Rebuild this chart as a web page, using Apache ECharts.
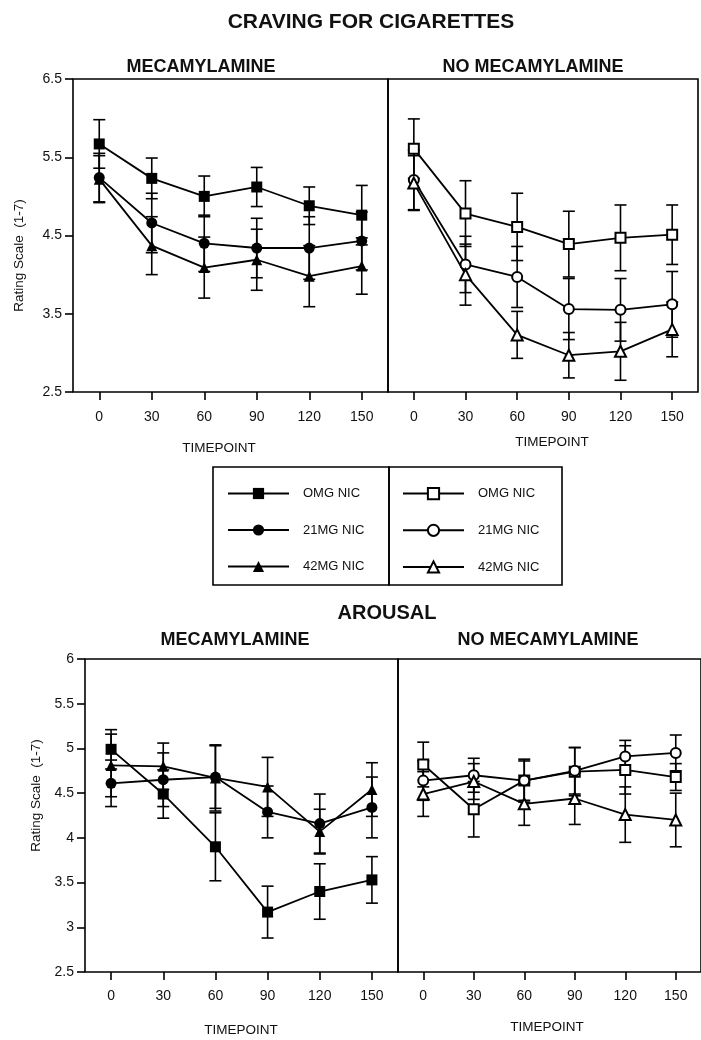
<!DOCTYPE html>
<html>
<head>
<meta charset="utf-8">
<script src="https://cdn.jsdelivr.net/npm/echarts@6/dist/echarts.min.js"></script>
<style>
  html, body { margin: 0; padding: 0; background: #fff; }
  #main { width: 701px; height: 1040px; }
</style>
</head>
<body>
<div id="main"></div>
<script>
var timepoints = ['0', '30', '60', '90', '120', '150'];

// craving, mecamylamine
var craveMecOmg = [5.67, 5.23, 5.00, 5.12, 4.88, 4.76];
var craveMecOmgSe = [0.31, 0.26, 0.26, 0.25, 0.24, 0.38];
var craveMec21 = [5.24, 4.66, 4.40, 4.34, 4.34, 4.43];
var craveMec21Se = [0.31, 0.38, 0.36, 0.38, 0.40, 0.37];
var craveMec42 = [5.22, 4.37, 4.09, 4.19, 3.98, 4.11];
var craveMec42Se = [0.30, 0.37, 0.39, 0.39, 0.39, 0.36];

// craving, no mecamylamine
var craveNoOmg = [5.61, 4.78, 4.61, 4.39, 4.47, 4.51];
var craveNoOmgSe = [0.38, 0.42, 0.43, 0.42, 0.42, 0.38];
var craveNo21 = [5.21, 4.13, 3.97, 3.56, 3.55, 3.62];
var craveNo21Se = [0.38, 0.36, 0.39, 0.39, 0.40, 0.42];
var craveNo42 = [5.17, 4.00, 3.23, 2.97, 3.02, 3.30];
var craveNo42Se = [0.35, 0.39, 0.30, 0.29, 0.37, 0.35];

// arousal, mecamylamine
var arouseMecOmg = [4.99, 4.49, 3.90, 3.17, 3.40, 3.53];
var arouseMecOmgSe = [0.22, 0.27, 0.38, 0.29, 0.31, 0.26];
var arouseMec21 = [4.61, 4.65, 4.68, 4.29, 4.16, 4.34];
var arouseMec21Se = [0.26, 0.30, 0.35, 0.29, 0.33, 0.34];
var arouseMec42 = [4.81, 4.80, 4.67, 4.57, 4.07, 4.54];
var arouseMec42Se = [0.35, 0.26, 0.37, 0.33, 0.25, 0.30];

// arousal, no mecamylamine
var arouseNoOmg = [4.82, 4.32, 4.64, 4.74, 4.76, 4.68];
var arouseNoOmgSe = [0.25, 0.31, 0.24, 0.27, 0.27, 0.15];
var arouseNo21 = [4.64, 4.70, 4.64, 4.75, 4.91, 4.95];
var arouseNo21Se = [0.22, 0.19, 0.22, 0.26, 0.18, 0.20];
var arouseNo42 = [4.49, 4.63, 4.38, 4.44, 4.26, 4.20];
var arouseNo42Se = [0.25, 0.20, 0.24, 0.29, 0.31, 0.30];

var FONT = 'Liberation Sans';
var chart = echarts.init(document.getElementById('main'));

var errorBars = function(grid, values, se) {
    return {
        type: 'custom',
        xAxisIndex: grid,
        yAxisIndex: grid,
        z: 1,
        silent: true,
        data: values.map(function(v, i) { return [i, v - se[i], v + se[i]]; }),
        renderItem: function(params, api) {
            var lo = api.coord([api.value(0), api.value(1)]);
            var hi = api.coord([api.value(0), api.value(2)]);
            var w = 6;
            var style = { stroke: '#000', lineWidth: 1.6 };
            return {
                type: 'group',
                children: [
                    { type: 'line', shape: { x1: lo[0], y1: lo[1], x2: hi[0], y2: hi[1] }, style: style },
                    { type: 'line', shape: { x1: lo[0] - w, y1: lo[1], x2: lo[0] + w, y2: lo[1] }, style: style },
                    { type: 'line', shape: { x1: hi[0] - w, y1: hi[1], x2: hi[0] + w, y2: hi[1] }, style: style }
                ]
            };
        }
    };
};

var lineSeries = function(name, grid, values, symbol, size) {
    var hollow = symbol.indexOf('empty') === 0;
    return {
        type: 'line',
        name: name,
        xAxisIndex: grid,
        yAxisIndex: grid,
        z: 3,
        data: values,
        symbol: symbol,
        symbolSize: size,
        showAllSymbol: true,
        animation: false,
        lineStyle: { color: '#000', width: 1.8 },
        itemStyle: { color: '#000', borderColor: '#000', borderWidth: hollow ? 1.5 : 0 }
    };
};

var group = function(grid, prefix, omg, omgSe, m21, m21Se, m42, m42Se, hollow) {
    var e = hollow ? 'empty' : '';
    return [
        errorBars(grid, omg, omgSe),
        errorBars(grid, m21, m21Se),
        errorBars(grid, m42, m42Se),
        lineSeries(prefix + '|OMG NIC', grid, omg, e + 'rect', hollow ? 10 : 11),
        lineSeries(prefix + '|21MG NIC', grid, m21, e + 'circle', hollow ? 10 : 11),
        lineSeries(prefix + '|42MG NIC', grid, m42, e + 'triangle', 11)
    ];
};

var grids = [
    { left: 73, top: 79, width: 315, height: 313 },
    { left: 388, top: 79, width: 310, height: 313 },
    { left: 85, top: 659, width: 313, height: 313 },
    { left: 398, top: 659, width: 313, height: 313 }
].map(function(g) {
    return Object.assign({ show: true, borderColor: '#000', borderWidth: 1.6, backgroundColor: 'transparent' }, g);
});

var xAxes = [0, 1, 2, 3].map(function(i) {
    return {
        type: 'category',
        gridIndex: i,
        data: timepoints,
        boundaryGap: true,
        axisLine: { show: false },
        axisTick: { show: true, alignWithLabel: true, length: 8, lineStyle: { color: '#000', width: 1.6 } },
        axisLabel: { fontFamily: FONT, fontSize: 14, color: '#111', margin: i < 2 ? 18 : 17 }
    };
});

var yAxisBase = function(i, min, max, interval, show, nameGap, namePad) {
    return {
        type: 'value',
        gridIndex: i,
        min: min,
        max: max,
        interval: interval,
        show: show,
        name: show ? 'Rating Scale  (1-7)' : '',
        nameLocation: 'middle',
        nameGap: nameGap,
        nameTextStyle: { fontFamily: FONT, fontSize: 13.5, color: '#111', padding: namePad },
        splitLine: { show: false },
        axisLine: { show: false },
        axisTick: { show: true, length: 8, lineStyle: { color: '#000', width: 1.6 } },
        axisLabel: { fontFamily: FONT, fontSize: 14, color: '#111', margin: 11 }
    };
};

var yAxes = [
    yAxisBase(0, 2.5, 6.5, 1, true, 47, [0, 40, 0, 0]),
    yAxisBase(1, 2.5, 6.5, 1, false, 0, 0),
    yAxisBase(2, 2.5, 6, 0.5, true, 42, [0, 0, 0, 40]),
    yAxisBase(3, 2.5, 6, 0.5, false, 0, 0)
];

var titleText = function(text, x, y, size, bold) {
    return {
        text: text,
        left: x,
        top: y,
        textAlign: 'center',
        padding: 0,
        textStyle: { fontFamily: FONT, fontSize: size, fontWeight: bold ? 'bold' : 'normal', color: '#111' }
    };
};

var legendStrip = function(name) { return name.split('|')[1]; };

var legendBase = function(left, prefix) {
    return {
        orient: 'vertical',
        left: left,
        top: 487,
        padding: 0,
        itemWidth: 61,
        itemHeight: 14,
        itemGap: 23.5,
        selectedMode: false,
        data: [prefix + '|OMG NIC', prefix + '|21MG NIC', prefix + '|42MG NIC'],
        formatter: legendStrip,
        textStyle: { fontFamily: FONT, fontSize: 13, color: '#111', padding: [0, 0, 0, 9] }
    };
};

var option = {
    backgroundColor: '#fff',
    animation: false,
    title: [
        titleText('CRAVING FOR CIGARETTES', 371, 12, 21, true),
        titleText('MECAMYLAMINE', 201, 58, 18, true),
        titleText('NO MECAMYLAMINE', 533, 58, 18, true),
        titleText('TIMEPOINT', 219, 441, 13.5, false),
        titleText('TIMEPOINT', 552, 435, 13.5, false),
        titleText('AROUSAL', 387, 603, 20, true),
        titleText('MECAMYLAMINE', 235, 631, 18, true),
        titleText('NO MECAMYLAMINE', 548, 631, 18, true),
        titleText('TIMEPOINT', 241, 1023, 13.5, false),
        titleText('TIMEPOINT', 547, 1020, 13.5, false)
    ],
    legend: [legendBase(227, 'M'), legendBase(402, 'N')],
    graphic: [
        { type: 'rect', shape: { x: 213, y: 467, width: 176, height: 118 }, style: { fill: 'none', stroke: '#000', lineWidth: 1.6 } },
        { type: 'rect', shape: { x: 389, y: 467, width: 173, height: 118 }, style: { fill: 'none', stroke: '#000', lineWidth: 1.6 } }
    ],
    grid: grids,
    xAxis: xAxes,
    yAxis: yAxes,
    series: [].concat(
        group(0, 'M', craveMecOmg, craveMecOmgSe, craveMec21, craveMec21Se, craveMec42, craveMec42Se, false),
        group(1, 'N', craveNoOmg, craveNoOmgSe, craveNo21, craveNo21Se, craveNo42, craveNo42Se, true),
        group(2, 'M', arouseMecOmg, arouseMecOmgSe, arouseMec21, arouseMec21Se, arouseMec42, arouseMec42Se, false),
        group(3, 'N', arouseNoOmg, arouseNoOmgSe, arouseNo21, arouseNo21Se, arouseNo42, arouseNo42Se, true)
    )
};

chart.setOption(option);
</script>
</body>
</html>
